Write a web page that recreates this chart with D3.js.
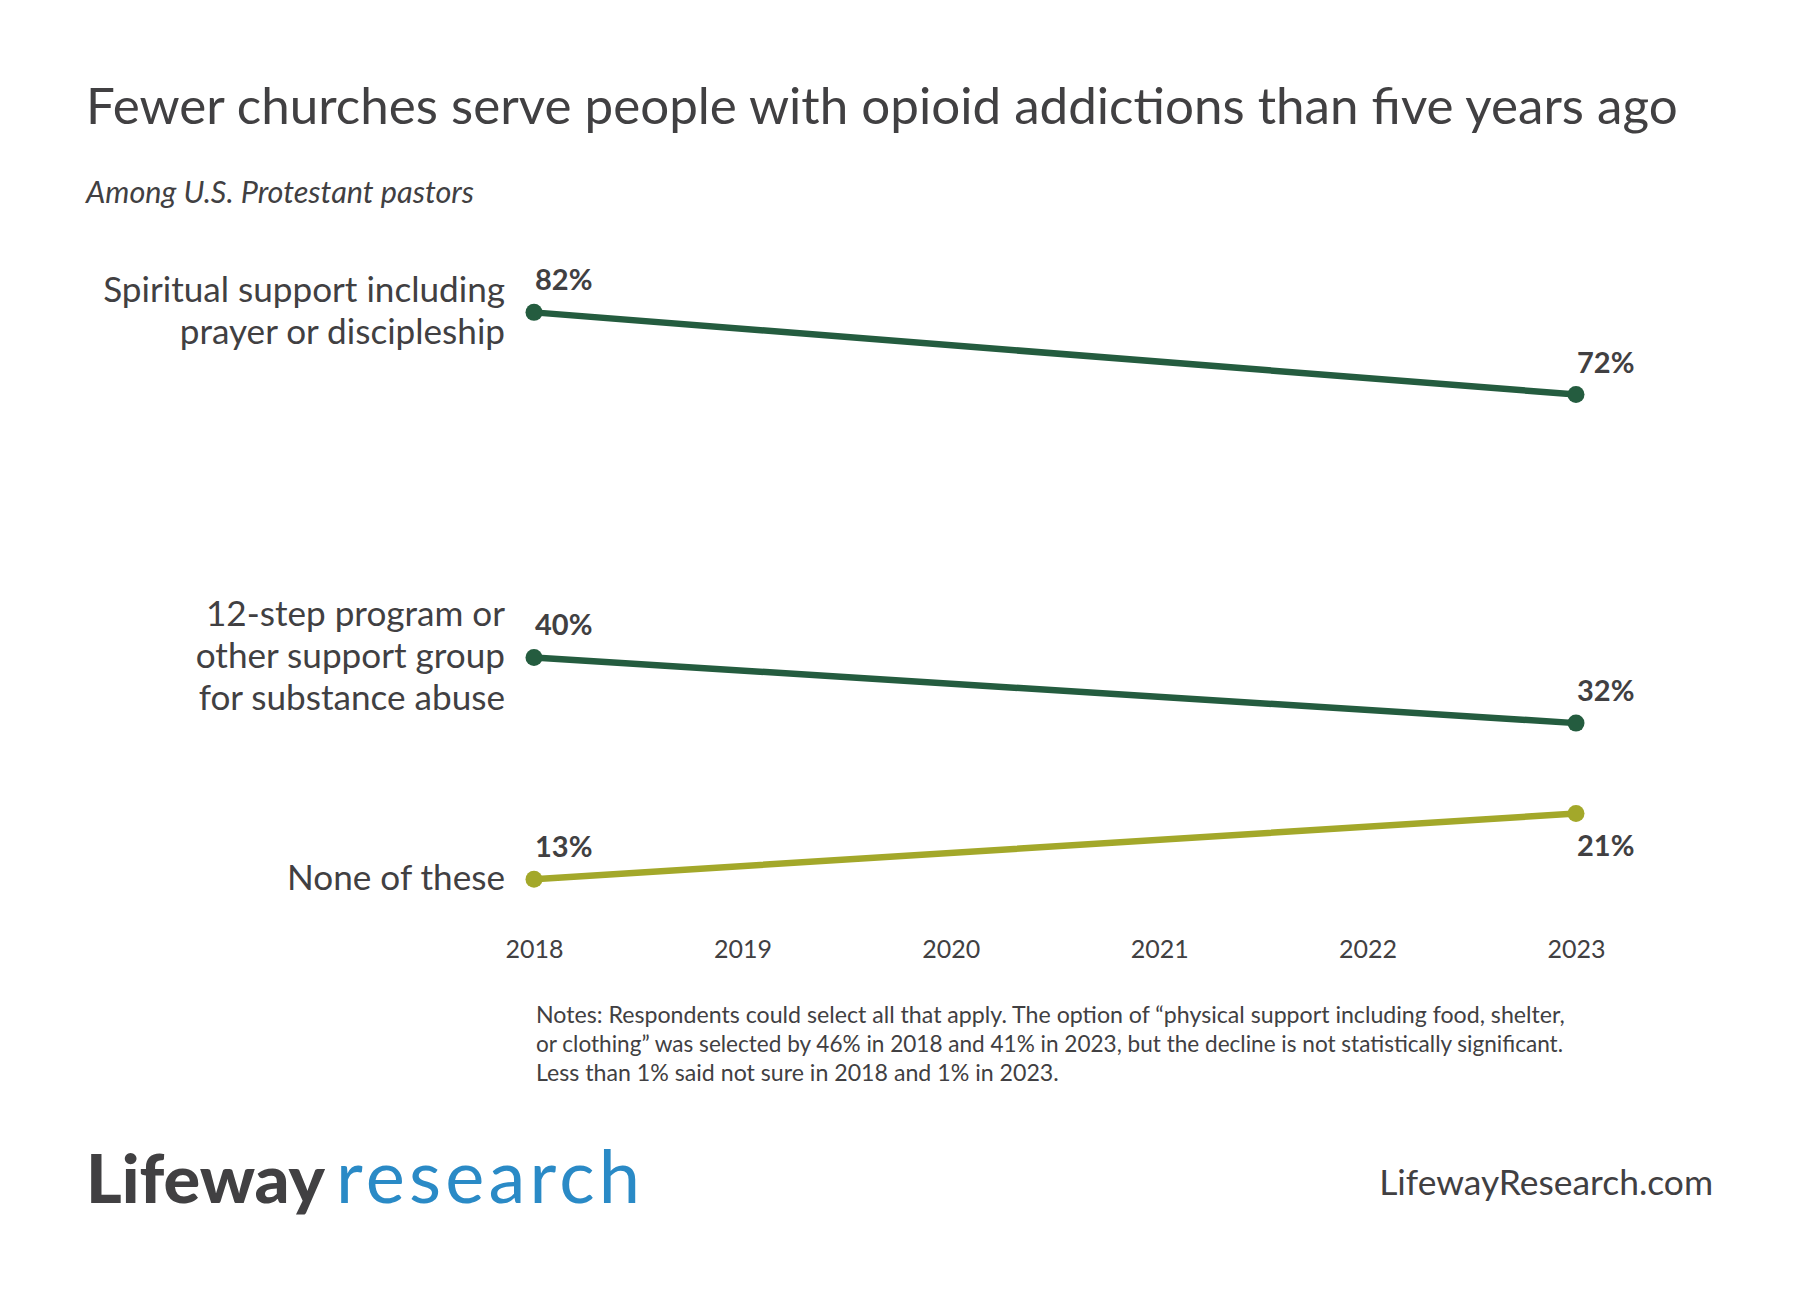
<!DOCTYPE html>
<html><head><meta charset="utf-8">
<script src="https://cdn.jsdelivr.net/npm/d3@7"></script>
<style>
html,body{margin:0;padding:0;background:#fff;}
svg{display:block;}
text{font-family:Lato,"Noto Sans",sans-serif;fill:#414042;}
</style></head>
<body>
<script>
const title = "Fewer churches serve people with opioid addictions than five years ago";
const subtitle = "Among U.S. Protestant pastors";
const tickYears = [2018, 2019, 2020, 2021, 2022, 2023];
const dataYears = [2018, 2023];
const seriesLabels = [
  ["Spiritual support including", "prayer or discipleship"],
  ["12-step program or", "other support group", "for substance abuse"],
  ["None of these"]
];
const spiritualValues = [82, 72];
const twelveStepValues = [40, 32];
const noneValues = [13, 21];
const seriesColors = ["#245c3f", "#245c3f", "#a3a82a"];
const notes = [
  "Notes: Respondents could select all that apply. The option of \u201cphysical support including food, shelter,",
  "or clothing\u201d was selected by 46% in 2018 and 41% in 2023, but the decline is not statistically significant.",
  "Less than 1% said not sure in 2018 and 1% in 2023."
];

const W = 1800, H = 1307;
const svg = d3.select("body").append("svg").attr("width", W).attr("height", H);

function fitSize(sel, target) {
  const fs = parseFloat(sel.attr("font-size"));
  const w = sel.node().getComputedTextLength();
  return fs * target / w;
}

// Title
const t = svg.append("text").attr("x", 86).attr("y", 124).attr("font-size", 50).text(title);
t.attr("font-size", fitSize(t, 1592));
const st = svg.append("text").attr("x", 86).attr("y", 203).attr("font-size", 27)
  .attr("font-style", "italic").text(subtitle);
st.attr("font-size", fitSize(st, 388));

const x = d3.scaleLinear().domain([2018, 2023]).range([534, 1576]);
const y = d3.scaleLinear().domain([0, 100]).range([986, 164.5]);

// axis
const ax = svg.append("g").attr("transform", "translate(0,940)")
  .call(d3.axisBottom(x).tickValues(tickYears).tickFormat(d3.format("d")).tickSize(0).tickPadding(0));
ax.select(".domain").remove();
ax.selectAll("text").attr("font-size", 25).attr("font-family", "Lato,'Noto Sans',sans-serif").attr("fill", "#414042");

const series = [spiritualValues, twelveStepValues, noneValues];
const line = d3.line().x((d, i) => x(dataYears[i])).y(d => y(d));

// label font fit
const probe = svg.append("text").attr("font-size", 32).text(seriesLabels[0][0]);
const labelFs = fitSize(probe, 402);
probe.remove();

series.forEach((vals, si) => {
  const col = seriesColors[si];
  svg.append("path").datum(vals).attr("d", line).attr("fill", "none")
    .attr("stroke", col).attr("stroke-width", 6.5).attr("stroke-linecap", "round");
  svg.selectAll(null).data(vals).enter().append("circle")
    .attr("cx", (d, i) => x(dataYears[i])).attr("cy", d => y(d)).attr("r", 8.5).attr("fill", col);
  const up = vals[1] < vals[0];
  vals.forEach((v, i) => {
    let dy = -22;
    if (!up && i === 1) dy = 43;
    svg.append("text").attr("x", x(dataYears[i]) + 1).attr("y", y(v) + dy)
      .attr("font-size", 29).attr("font-weight", 700).text(v + "%");
  });
  const lines = seriesLabels[si];
  const cy = y(vals[0]) + 11;
  const lh = 42;
  lines.forEach((ln, li) => {
    svg.append("text").attr("x", 505).attr("y", cy + (li - (lines.length - 1) / 2) * lh)
      .attr("text-anchor", "end").attr("font-size", labelFs).text(ln);
  });
});

// notes
const n0 = svg.append("text").attr("x", 536).attr("y", 1023).attr("font-size", 20).text(notes[0]);
const notesFs = fitSize(n0, 1029);
n0.remove();
notes.forEach((ln, i) => {
  const nt = svg.append("text").attr("x", 536).attr("y", 1023 + i * 29).attr("font-size", notesFs).text(ln);
  if (i === 1) nt.attr("textLength", 1027).attr("lengthAdjust", "spacingAndGlyphs");
});

// logo
const lg = svg.append("text").attr("x", 86).attr("y", 1203).attr("font-size", 66)
  .attr("font-weight", 900).attr("fill", "#414042").text("Lifeway");
lg.attr("textLength", 239).attr("lengthAdjust", "spacingAndGlyphs");
svg.append("text").attr("x", 336).attr("y", 1203).attr("font-size", 74)
  .attr("fill", "#2a8ac6").style("fill", "#2a8ac6").attr("letter-spacing", 3)
  .attr("textLength", 307).attr("lengthAdjust", "spacing").text("research");

const url = svg.append("text").attr("x", 1713).attr("y", 1195).attr("text-anchor", "end")
  .attr("font-size", 33).text("LifewayResearch.com");
url.attr("font-size", fitSize(url, 334));
</script>
</body></html>
